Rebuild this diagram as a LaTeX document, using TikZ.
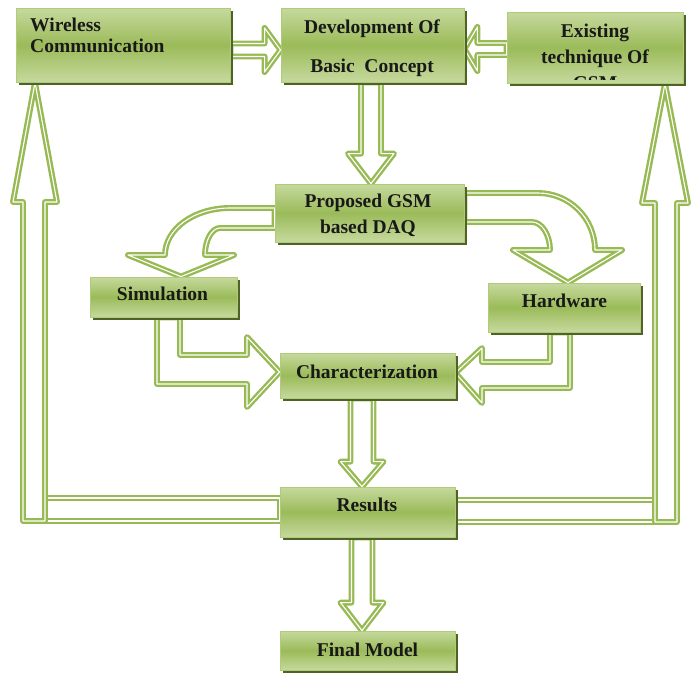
\documentclass[tikz,border=0pt]{standalone}
\usepackage{fontspec}
\setmainfont{Liberation Serif}
\usepackage{xcolor}
\usetikzlibrary{calc,shadows}

\definecolor{boxmid}{RGB}{155,187,89}
\definecolor{boxlight}{RGB}{198,217,158}
\definecolor{boxline}{RGB}{176,204,120}
\definecolor{shadowgreen}{RGB}{79,98,40}
\definecolor{arrowgreen}{RGB}{152,186,84}

\pgfdeclarelayer{bg}
\pgfsetlayers{bg,main}

\tikzset{
    box/.style={draw=boxline, line width=0.8pt, inner sep=0pt,
        top color=boxlight, bottom color=boxlight, middle color=boxmid,
        drop shadow={shadow xshift=2.5pt, shadow yshift=-2.5pt, fill=shadowgreen, opacity=1}},
    lbl/.style={font=\fontsize{19.5}{21}\selectfont\bfseries, text=black!90, inner sep=0pt},
    hollow/.style={draw=arrowgreen, line width=2.4pt, double=white, double distance=1.1pt,
        fill=white, line join=round}
}

% straight block arrow: tail, tip, shaft half width, head half width, head length
\newcommand{\hollowarrow}[5]{%
    \coordinate (t0) at (#1);
    \coordinate (t1) at (#2);
    \coordinate (hb) at ($(t1)!#5pt!(t0)$);
    \draw[hollow] ($(t0)!#3pt!90:(t1)$) -- ($(hb)!#3pt!90:(t1)$) -- ($(hb)!#4pt!90:(t1)$) -- (t1)
        -- ($(hb)!#4pt!-90:(t1)$) -- ($(hb)!#3pt!-90:(t1)$) -- ($(t0)!#3pt!-90:(t1)$) -- cycle;}

\begin{document}
\begin{tikzpicture}[x=1pt, y=-1pt]
    \useasboundingbox (0,0) rectangle (694,673);

    % Boxes
    \node[box, minimum width=214pt, minimum height=74pt] (wire) at (123,45) {};
    \node[box, minimum width=183pt, minimum height=74pt] (dev) at (372.5,45) {};
    \node[box, minimum width=176pt, minimum height=71pt] (exist) at (595,47.5) {};
    \node[box, minimum width=189pt, minimum height=58pt] (prop) at (369.5,213) {};
    \node[box, minimum width=147pt, minimum height=40pt] (sim) at (163.5,297) {};
    \node[box, minimum width=152pt, minimum height=49pt] (hard) at (564,307.5) {};
    \node[box, minimum width=175pt, minimum height=45pt] (char) at (367.5,375.5) {};
    \node[box, minimum width=175pt, minimum height=50pt] (res) at (367.5,512) {};
    \node[box, minimum width=175pt, minimum height=39pt] (final) at (367.5,650.5) {};

    % Texts (base anchor = last line)
    \node[lbl, align=left, anchor=base west] (wiretxt) at (30,52) {Wireless\\Communication};
    \node[lbl, align=center, anchor=base, font=\fontsize{19.5}{39}\selectfont\bfseries] (devtxt)
        at (372,72) {Development Of\\Basic~~Concept};
    \begin{scope}
        \clip (510,14) rectangle (680,79);
        \node[lbl, align=center, anchor=base, font=\fontsize{19.5}{26}\selectfont\bfseries] (existtxt)
            at (595,89) {Existing\\technique Of\\GSM};
    \end{scope}
    \node[lbl, align=center, anchor=base, font=\fontsize{19.5}{26}\selectfont\bfseries] (proptxt)
        at (368,233) {Proposed GSM\\based DAQ};
    \node[lbl, anchor=base] (simtxt) at (162.5,300) {Simulation};
    \node[lbl, anchor=base] (hardtxt) at (564.5,307) {Hardware};
    \node[lbl, anchor=base] (chartxt) at (367,378) {Characterization};
    \node[lbl, anchor=base] (restxt) at (367,511) {Results};
    \node[lbl, anchor=base] (finaltxt) at (367.5,656) {Final Model};

    \begin{pgfonlayer}{bg}
        % Top row
        \hollowarrow{wire.east |- 0,50}{dev.west |- 0,50}{6.5}{22}{16}
        \hollowarrow{exist.west |- 0,49}{dev.east |- 0,49}{6}{22}{13}
        \hollowarrow{dev.south -| 371,0}{prop.north -| 371,0}{10}{23}{30}

        % Split to simulation and hardware
        \draw[hollow] (prop.west |- 0,208) -- (230,208) .. controls (194,208) and (165,229) .. (165,255)
            -- (128,255) -- (sim.north -| 181,0) -- (234,255) -- (205,255)
            .. controls (205,240) and (212,228) .. (220,228) -- (prop.west |- 0,228) -- cycle;
        \draw[hollow] (prop.east |- 0,193) -- (538,193) .. controls (569,193) and (595,218) .. (595,250)
            -- (622,250) -- (hard.north -| 568,0) -- (513,250) -- (550,250)
            .. controls (550,235) and (542,222) .. (532,222) -- (prop.east |- 0,222) -- cycle;

        % Back together
        \draw[hollow] (sim.south -| 157,0) -- (sim.south -| 180,0) -- (180,355) -- (247,355) -- (247,337)
            -- (char.west |- 0,372) -- (247,407) -- (247,384) -- (157,384) -- cycle;
        \draw[hollow] (hard.south -| 570,0) -- (hard.south -| 550,0) -- (550,362) -- (482,362) -- (482,348)
            -- (char.east |- 0,373) -- (482,403) -- (482,388) -- (570,388) -- cycle;

        % Down the middle
        \hollowarrow{char.south -| 362,0}{res.north -| 362,0}{11.5}{21.5}{25}
        \hollowarrow{res.south -| 362,0}{final.north -| 362,0}{10.5}{21.5}{28}

        % Feedback loops
        \draw[hollow] (45,498) rectangle (res.west |- 0,521);
        \draw[hollow] (23,521) -- (23,202) -- (13,202) -- (wire.south -| 35,0) -- (57,202) -- (45,202)
            -- (45,521) -- cycle;
        \draw[hollow] (res.east |- 0,500) rectangle (655,522);
        \draw[hollow] (655,522) -- (655,203) -- (642,203) -- (exist.south -| 665,0) -- (688,203)
            -- (677,203) -- (677,522) -- cycle;
    \end{pgfonlayer}
\end{tikzpicture}
\end{document}
